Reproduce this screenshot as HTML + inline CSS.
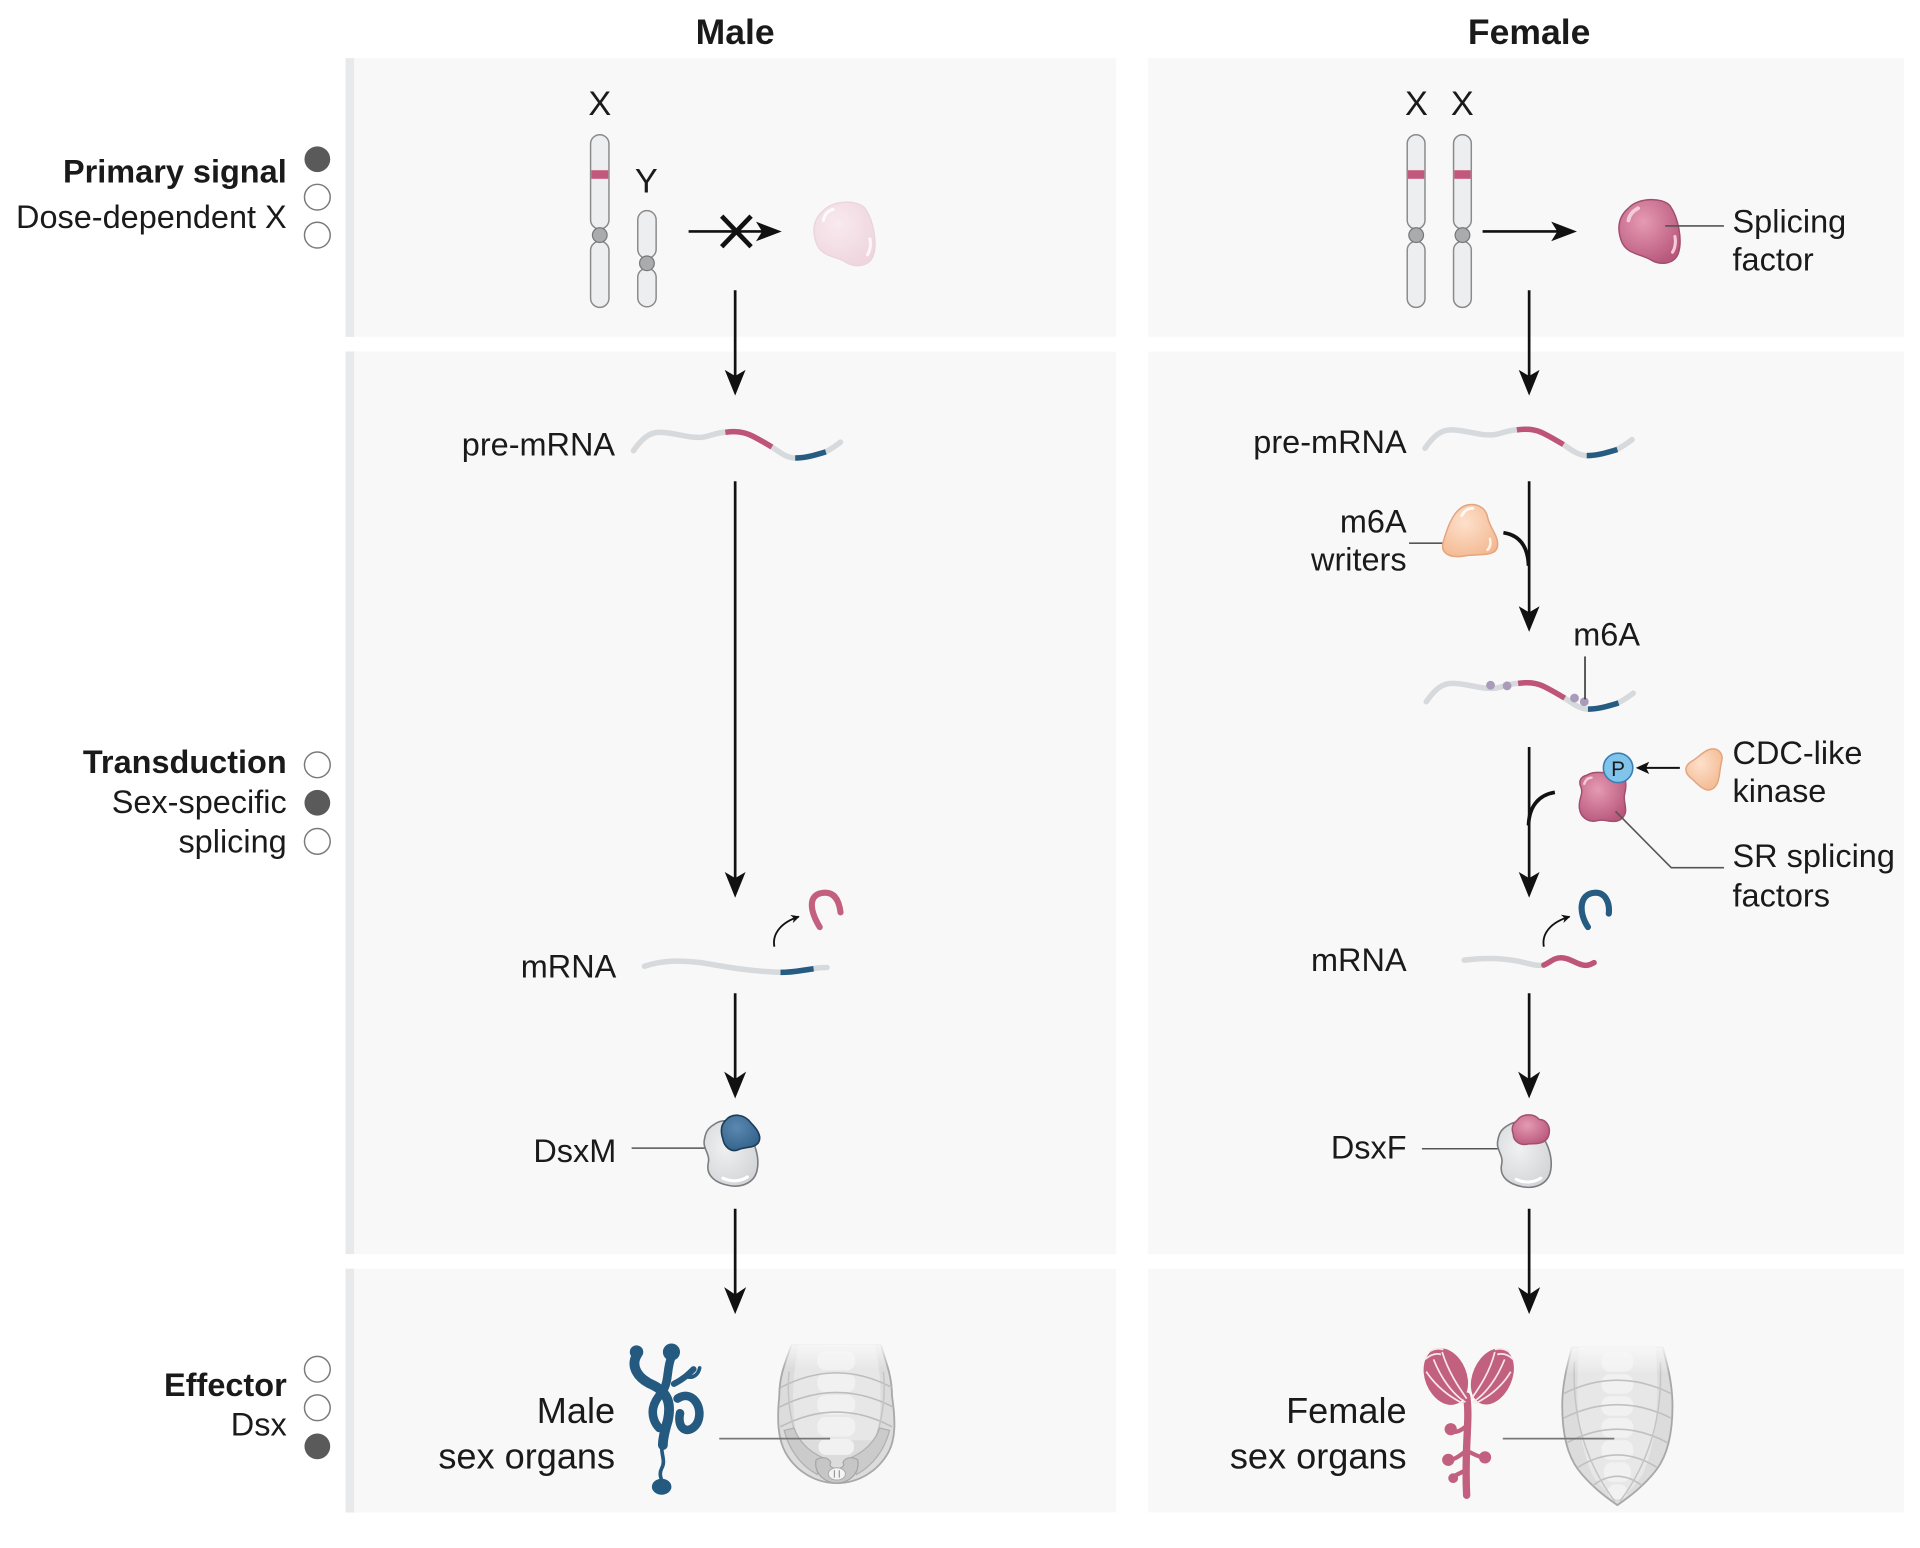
<!DOCTYPE html>
<html>
<head>
<meta charset="utf-8">
<style>
html,body{margin:0;padding:0;background:#fff;}
svg{display:block;}
text{font-family:"Liberation Sans",Arial,sans-serif;fill:#1a1a1a;}
.b{font-weight:bold;}
.t{font-size:26.5px;}
.o{font-size:29.5px;}
.ln{stroke:#555;stroke-width:1.3;fill:none;}
.ar{stroke:#111;stroke-width:2.2;fill:none;}
.ah{fill:#111;}
.chr{fill:#eceef0;stroke:#8a8a8a;stroke-width:1.2;}
.cen{fill:#a9abad;stroke:#777;stroke-width:1;}
.band{fill:#c4587c;}
.rg{fill:none;stroke:#d6dadd;stroke-width:4.5;stroke-linecap:round;}
.rp{fill:none;stroke:#bf5479;stroke-width:4.5;}
.rb{fill:none;stroke:#265b82;stroke-width:4.5;}
.cf{fill:#5a5a5a;}
.ce{fill:#fff;stroke:#7a7a7a;stroke-width:1.2;}
</style>
</head>
<body>
<svg width="1920" height="1548" viewBox="0 0 1567 1264" preserveAspectRatio="none" xmlns="http://www.w3.org/2000/svg">
<defs>
  <radialGradient id="gPink" cx="0.4" cy="0.35" r="0.7">
    <stop offset="0" stop-color="#e59ab3"/>
    <stop offset="1" stop-color="#b9587b"/>
  </radialGradient>
  <radialGradient id="gPale" cx="0.4" cy="0.35" r="0.7">
    <stop offset="0" stop-color="#f8eaef"/>
    <stop offset="1" stop-color="#efd5de"/>
  </radialGradient>
  <radialGradient id="gPeach" cx="0.4" cy="0.35" r="0.75">
    <stop offset="0" stop-color="#fde0cb"/>
    <stop offset="1" stop-color="#f3b78f"/>
  </radialGradient>
  <radialGradient id="gGray" cx="0.4" cy="0.4" r="0.75">
    <stop offset="0" stop-color="#f0f1f2"/>
    <stop offset="1" stop-color="#cfd1d4"/>
  </radialGradient>
  <radialGradient id="gBlue" cx="0.4" cy="0.35" r="0.75">
    <stop offset="0" stop-color="#5b88b0"/>
    <stop offset="1" stop-color="#2f5f88"/>
  </radialGradient>
  <linearGradient id="mg" x1="0" y1="0" x2="0" y2="1">
    <stop offset="0" stop-color="#000"/>
    <stop offset="0.17" stop-color="#fff"/>
    <stop offset="1" stop-color="#fff"/>
  </linearGradient>
  <mask id="mM" maskUnits="userSpaceOnUse" x="620" y="1096" width="125" height="125">
    <rect x="620" y="1096" width="125" height="125" fill="url(#mg)"/>
  </mask>
  <mask id="mF" maskUnits="userSpaceOnUse" x="1265" y="1098" width="110" height="140">
    <rect x="1265" y="1098" width="110" height="140" fill="url(#mg)"/>
  </mask>
  <marker id="sa" viewBox="0 0 10 10" refX="9" refY="5" markerWidth="7" markerHeight="7" orient="auto" markerUnits="userSpaceOnUse">
    <path d="M0,0 L10,5 L0,10 L3,5 Z" fill="#111"/>
  </marker>
</defs>

<!-- Panels -->
<rect x="282" y="47.5" width="629" height="227.5" fill="#f9f8f9"/>
<rect x="282" y="287" width="629" height="737" fill="#f9f8f9"/>
<rect x="282" y="1036" width="629" height="199" fill="#f9f8f9"/>
<rect x="282" y="47.5" width="7" height="227.5" fill="#e8e9eb"/>
<rect x="282" y="287" width="7" height="737" fill="#e8e9eb"/>
<rect x="282" y="1036" width="7" height="199" fill="#e8e9eb"/>
<rect x="937" y="47.5" width="617" height="227.5" fill="#f9f8f9"/>
<rect x="937" y="287" width="617" height="737" fill="#f9f8f9"/>
<rect x="937" y="1036" width="617" height="199" fill="#f9f8f9"/>

<!-- Titles -->
<text x="600" y="36" text-anchor="middle" class="b" font-size="29">Male</text>
<text x="1248" y="36" text-anchor="middle" class="b" font-size="29">Female</text>

<!-- Legend -->
<text x="234" y="149" text-anchor="end" class="b t">Primary signal</text>
<text x="234" y="186" text-anchor="end" class="t">Dose-dependent X</text>
<circle cx="259" cy="130" r="10.5" class="cf"/>
<circle cx="259" cy="161" r="10.5" class="ce"/>
<circle cx="259" cy="192" r="10.5" class="ce"/>

<text x="234" y="631" text-anchor="end" class="b t">Transduction</text>
<text x="234" y="664" text-anchor="end" class="t">Sex-specific</text>
<text x="234" y="696" text-anchor="end" class="t">splicing</text>
<circle cx="259" cy="624.5" r="10.5" class="ce"/>
<circle cx="259" cy="655.5" r="10.5" class="cf"/>
<circle cx="259" cy="687" r="10.5" class="ce"/>

<text x="234" y="1140" text-anchor="end" class="b t">Effector</text>
<text x="234" y="1172" text-anchor="end" class="t">Dsx</text>
<circle cx="259" cy="1118" r="10.5" class="ce"/>
<circle cx="259" cy="1149.5" r="10.5" class="ce"/>
<circle cx="259" cy="1181" r="10.5" class="cf"/>

<!-- ===== MALE PANEL 1 ===== -->
<text x="489.5" y="94" text-anchor="middle" font-size="28">X</text>
<text x="527.5" y="157" text-anchor="middle" font-size="28">Y</text>
<rect x="482" y="110" width="15" height="77" rx="7.5" class="chr"/>
<rect x="482" y="197" width="15" height="54" rx="7.5" class="chr"/>
<rect x="482.6" y="139" width="13.8" height="7" class="band"/>
<circle cx="489.5" cy="192" r="6" class="cen"/>
<rect x="520.5" y="172" width="15" height="39" rx="7.5" class="chr"/>
<rect x="520.5" y="219" width="15" height="31.5" rx="7.5" class="chr"/>
<circle cx="528" cy="215" r="6" class="cen"/>
<!-- blocked arrow -->
<line x1="562" y1="189" x2="624" y2="189" class="ar"/>
<polygon points="638,189 617,181 622,189 617,197" class="ah"/>
<line x1="589" y1="176.5" x2="613" y2="201.5" stroke="#111" stroke-width="3.8"/>
<line x1="613" y1="176.5" x2="589" y2="201.5" stroke="#111" stroke-width="3.8"/>
<!-- pale protein -->
<path d="M672,172 C680,163 700,163 706,170 C713,180 716,198 713,208 C710,218 698,219 690,214 C682,209 670,210 666,198 C662,186 665,178 672,172 Z" fill="url(#gPale)" stroke="#ead3dc" stroke-width="1"/>
<path d="M672,180 C673,175 676,172 680,171" stroke="#fff" stroke-width="2.5" fill="none" stroke-linecap="round" opacity="0.8"/>
<path d="M710,195 C711,200 710,205 708,208" stroke="#fff" stroke-width="2.5" fill="none" stroke-linecap="round" opacity="0.8"/>

<!-- ===== FEMALE PANEL 1 ===== -->
<text x="1156" y="94" text-anchor="middle" font-size="28">X</text>
<text x="1193.5" y="94" text-anchor="middle" font-size="28">X</text>
<rect x="1148.5" y="110" width="14.5" height="77" rx="7.2" class="chr"/>
<rect x="1148.5" y="197" width="14.5" height="54" rx="7.2" class="chr"/>
<rect x="1149.1" y="139" width="13.3" height="7" class="band"/>
<circle cx="1155.8" cy="192" r="6" class="cen"/>
<rect x="1186.3" y="110" width="14.5" height="77" rx="7.2" class="chr"/>
<rect x="1186.3" y="197" width="14.5" height="54" rx="7.2" class="chr"/>
<rect x="1186.9" y="139" width="13.3" height="7" class="band"/>
<circle cx="1193.6" cy="192" r="6" class="cen"/>
<line x1="1210" y1="189" x2="1272" y2="189" class="ar"/>
<polygon points="1287,189 1266,181 1271,189 1266,197" class="ah"/>
<path d="M1329,170 C1337,161 1357,161 1363,168 C1370,178 1373,196 1370,206 C1367,216 1355,217 1347,212 C1339,207 1327,208 1323,196 C1319,184 1322,176 1329,170 Z" fill="url(#gPink)" stroke="#a14e6f" stroke-width="1.2"/>
<path d="M1329,180 C1330,175 1333,172 1337,170" stroke="#f6cbd9" stroke-width="3" fill="none" stroke-linecap="round"/>
<path d="M1367,193 C1368,198 1367,203 1365,206" stroke="#f6cbd9" stroke-width="2.5" fill="none" stroke-linecap="round"/>
<line x1="1359" y1="184.5" x2="1407" y2="184.5" class="ln"/>
<text x="1414" y="190" class="t">Splicing</text>
<text x="1414" y="221" class="t">factor</text>

<!-- ===== DOWN ARROWS ===== -->
<g>
<line x1="600" y1="237" x2="600" y2="312" class="ar"/>
<polygon points="600,323 591.5,302 600,307 608.5,302" class="ah"/>
<line x1="600" y1="393" x2="600" y2="720" class="ar"/>
<polygon points="600,733 591.5,712 600,717 608.5,712" class="ah"/>
<line x1="600" y1="811" x2="600" y2="884" class="ar"/>
<polygon points="600,897 591,875 600,881 609,875" class="ah"/>
<line x1="600" y1="987" x2="600" y2="1060" class="ar"/>
<polygon points="600,1073 591,1051 600,1057 609,1051" class="ah"/>

<line x1="1248" y1="237" x2="1248" y2="312" class="ar"/>
<polygon points="1248,323 1239.5,302 1248,307 1256.5,302" class="ah"/>
<line x1="1248" y1="393" x2="1248" y2="503" class="ar"/>
<polygon points="1248,516 1239.5,495 1248,500 1256.5,495" class="ah"/>
<line x1="1248" y1="610" x2="1248" y2="720" class="ar"/>
<polygon points="1248,733 1239.5,712 1248,717 1256.5,712" class="ah"/>
<line x1="1248" y1="811" x2="1248" y2="884" class="ar"/>
<polygon points="1248,897 1239,875 1248,881 1257,875" class="ah"/>
<line x1="1248" y1="987" x2="1248" y2="1060" class="ar"/>
<polygon points="1248,1073 1239,1051 1248,1057 1257,1051" class="ah"/>
</g>

<!-- ===== pre-mRNA (female) ===== -->
<g>
<path d="M1163,366 C1170,356 1176,351 1184,351 C1197,351 1207,356 1219,355 C1226,354 1231,351 1238,351 C1245,350 1252,350 1260,354 C1266,357 1271,360 1276,363 C1282,367 1288,372 1295,372 C1303,372 1310,370 1317,368 C1323,366 1328,362 1332,359" class="rg"/>
<path d="M1238,351 C1245,350 1252,350 1260,354 C1266,357 1271,360 1276,363" class="rp"/>
<path d="M1295,372 C1303,372 1310,370 1320,367" class="rb"/>
</g>
<text x="1148" y="370" text-anchor="end" class="t">pre-mRNA</text>

<!-- male pre-mRNA -->
<g transform="translate(-646,2)">
<path d="M1163,366 C1170,356 1176,351 1184,351 C1197,351 1207,356 1219,355 C1226,354 1231,351 1238,351 C1245,350 1252,350 1260,354 C1266,357 1271,360 1276,363 C1282,367 1288,372 1295,372 C1303,372 1310,370 1317,368 C1323,366 1328,362 1332,359" class="rg"/>
<path d="M1238,351 C1245,350 1252,350 1260,354 C1266,357 1271,360 1276,363" class="rp"/>
<path d="M1295,372 C1303,372 1310,370 1320,367" class="rb"/>
</g>
<text x="502" y="372" text-anchor="end" class="t">pre-mRNA</text>

<!-- m6A writers -->
<text x="1148" y="435" text-anchor="end" class="t">m6A</text>
<text x="1148" y="466" text-anchor="end" class="t">writers</text>
<line x1="1150" y1="443.5" x2="1185" y2="443.5" class="ln"/>
<path d="M1192,415 C1200,409 1212,412 1214,422 C1216,432 1224,438 1222,447 C1220,455 1205,452 1195,454 C1183,456 1175,452 1178,442 C1181,432 1185,420 1192,415 Z" fill="url(#gPeach)" stroke="#e3a47e" stroke-width="1.2"/>
<path d="M1193,421 C1195,417 1198,415 1202,415" stroke="#fff" stroke-width="2.5" fill="none" stroke-linecap="round" opacity="0.8"/>
<path d="M1216,440 C1217,444 1216,447 1214,449" stroke="#fff" stroke-width="2" fill="none" stroke-linecap="round" opacity="0.8"/>
<path d="M1227,435 C1240,437 1247,446 1247.5,462" fill="none" stroke="#111" stroke-width="3"/>

<!-- m6A modified RNA -->
<text x="1284" y="527" class="t">m6A</text>
<g transform="translate(1,207)">
<path d="M1163,366 C1170,356 1176,351 1184,351 C1197,351 1207,356 1219,355 C1226,354 1231,351 1238,351 C1245,350 1252,350 1260,354 C1266,357 1271,360 1276,363 C1282,367 1288,372 1295,372 C1303,372 1310,370 1317,368 C1323,366 1328,362 1332,359" class="rg"/>
<path d="M1238,351 C1245,350 1252,350 1260,354 C1266,357 1271,360 1276,363" class="rp"/>
<path d="M1295,372 C1303,372 1310,370 1320,367" class="rb"/>
</g>
<circle cx="1216.5" cy="559.5" r="3.6" fill="#a99bb9"/>
<circle cx="1230" cy="560" r="3.6" fill="#a99bb9"/>
<circle cx="1285" cy="570" r="3.6" fill="#a99bb9"/>
<circle cx="1293" cy="573" r="3.6" fill="#a99bb9"/>
<line x1="1293.6" y1="536" x2="1293.6" y2="571" stroke="#333" stroke-width="1.3"/>

<!-- SR / kinase -->
<path d="M1269,647 C1257,649 1248,657 1247.5,674" fill="none" stroke="#111" stroke-width="3"/>
<path d="M1295,633 C1303,628 1313,633 1320,631 C1327,631 1328,640 1326,648 C1324,655 1330,662 1324,668 C1318,674 1310,668 1304,670 C1297,672 1290,668 1289,660 C1288,652 1293,648 1290,642 C1288,637 1291,634 1295,633 Z" fill="url(#gPink)" stroke="#a14e6f" stroke-width="1.2"/>
<path d="M1293,640 C1294,637 1296,635 1299,635" stroke="#f6cbd9" stroke-width="2" fill="none" stroke-linecap="round"/>
<circle cx="1320.6" cy="627" r="12" fill="#80c4ec" stroke="#3a7fb2" stroke-width="1.3"/>
<text x="1320.6" y="633.5" text-anchor="middle" font-size="17" fill="#1d3f5c">P</text>
<line x1="1371" y1="627" x2="1343" y2="627" stroke="#111" stroke-width="1.6"/>
<polygon points="1335,627 1346,622 1343.5,627 1346,632" class="ah"/>
<path d="M1395,612 C1402,610 1407,615 1405,622 C1403,630 1404,640 1398,644 C1392,648 1385,640 1381,636 C1375,632 1374,626 1380,622 C1386,619 1389,614 1395,612 Z" fill="url(#gPeach)" stroke="#e3a47e" stroke-width="1.2"/>
<text x="1414" y="624" class="t">CDC-like</text>
<text x="1414" y="655" class="t">kinase</text>
<path d="M1318.5,662.5 L1364,708.5 L1407,708.5" class="ln"/>
<text x="1414" y="708" class="t">SR splicing</text>
<text x="1414" y="740" class="t">factors</text>

<!-- Female mRNA -->
<path d="M1296,757 C1288,745 1289,730 1301,729 C1310,728 1314,737 1313,746" fill="none" stroke="#265b82" stroke-width="5" stroke-linecap="round"/>
<path d="M1260,773 C1258,762 1266,753 1281,748.5" fill="none" stroke="#111" stroke-width="1.5" marker-end="url(#sa)"/>
<path d="M1195,784 C1210,782 1225,782 1240,785 C1248,787 1254,789 1260,788" class="rg"/>
<path d="M1260,788 C1265,786 1268,782 1274,782 C1281,782 1286,787 1292,788 C1296,789 1299,787 1301,786" fill="none" stroke="#bf5479" stroke-width="4.5" stroke-linecap="round"/>
<text x="1148" y="793" text-anchor="end" class="t">mRNA</text>

<!-- Male mRNA -->
<path d="M669,757 C660,742 660,730 672,729 C682,728 685,737 686,745" fill="none" stroke="#c4607f" stroke-width="5" stroke-linecap="round"/>
<path d="M632,773 C630,762 638,753 652,748.5" fill="none" stroke="#111" stroke-width="1.5" marker-end="url(#sa)"/>
<path d="M526,789 C540,784 555,784 572,786 C590,789 610,793 637,794 C648,794 656,792 664,791 C668,790 672,790 675,790" class="rg"/>
<path d="M637,794 C648,794 656,792 664,791" class="rb"/>
<text x="503" y="798" text-anchor="end" class="t">mRNA</text>

<!-- DsxM -->
<text x="503" y="949" text-anchor="end" class="t">DsxM</text>
<line x1="515.5" y1="937.5" x2="584" y2="937.5" class="ln"/>
<path d="M583,918 C592,912 605,916 610,926 C616,932 620,945 618,955 C616,966 605,970 595,968 C584,966 576,960 578,950 C580,942 573,938 575,930 C576,924 578,921 583,918 Z" fill="url(#gGray)" stroke="#7b7d80" stroke-width="1.3"/>
<path d="M590,962 C596,965 604,965 610,961" stroke="#fff" stroke-width="2.5" fill="none" stroke-linecap="round"/>
<path d="M592,915 C598,908 608,910 613,917 C618,922 622,928 619,933 C615,938 608,936 602,939 C596,941 591,936 590,930 C588,924 588,919 592,915 Z" fill="url(#gBlue)" stroke="#1c3b57" stroke-width="1.3"/>

<!-- DsxF -->
<text x="1148" y="946" text-anchor="end" class="t">DsxF</text>
<line x1="1160.5" y1="938" x2="1229" y2="938" class="ln"/>
<g transform="translate(647.5,1)">
<path d="M583,918 C592,912 605,916 610,926 C616,932 620,945 618,955 C616,966 605,970 595,968 C584,966 576,960 578,950 C580,942 573,938 575,930 C576,924 578,921 583,918 Z" fill="url(#gGray)" stroke="#7b7d80" stroke-width="1.3"/>
<path d="M590,962 C596,965 604,965 610,961" stroke="#fff" stroke-width="2.5" fill="none" stroke-linecap="round"/>
</g>
<path d="M1238,915 C1242,909 1252,909 1256,914 C1262,914 1266,920 1264,927 C1262,934 1254,934 1248,934 C1241,936 1235,932 1235,926 C1233,921 1235,917 1238,915 Z" fill="url(#gPink)" stroke="#a14e6f" stroke-width="1.2"/>

<!-- ===== MALE ORGANS ===== -->
<text x="502" y="1162" text-anchor="end" class="o">Male</text>
<text x="502" y="1199" text-anchor="end" class="o">sex organs</text>
<g fill="none" stroke="#255a80" stroke-linecap="round">
  <path d="M520,1106 C514,1116 521,1126 533,1131 C545,1137 548,1146 545,1160 C542,1170 541,1175 541,1180" stroke-width="8"/>
  <path d="M548,1108 C544,1118 546,1126 542,1134 C538,1140 534,1144 533,1150 C532,1156 534,1162 538,1166" stroke-width="7"/>
  <path d="M553,1142 C565,1134 575,1150 569,1162 C563,1172 552,1168 555,1154" stroke-width="7"/>
  <path d="M550,1130 C558,1126 562,1122 566,1118" stroke-width="5"/>
  <path d="M560,1124 C566,1126 570,1122 571,1117" stroke-width="3"/>
  <path d="M541,1178 C538,1186 544,1192 540,1199 C537,1205 541,1208 540,1212" stroke-width="3"/>
</g>
<circle cx="519.5" cy="1104" r="5.5" fill="#255a80"/>
<circle cx="548" cy="1104" r="7" fill="#255a80"/>
<ellipse cx="540" cy="1214" rx="8" ry="6.5" fill="#255a80"/>

<!-- male abdomen -->
<g mask="url(#mM)">
<path d="M646,1098 C642,1110 636,1122 636,1140 C634,1160 635,1175 641,1186 C650,1202 666,1211 683,1211 C700,1211 716,1202 725,1186 C731,1175 731,1160 728,1140 C728,1122 722,1110 719,1098 Z" fill="#dcdcdc" stroke="#a9a9a9" stroke-width="1.5"/>
<path d="M652,1098 C647,1120 645,1150 651,1176 L715,1176 C721,1150 719,1120 714,1098 Z" fill="#e7e7e7"/>
<rect x="667" y="1103" width="31" height="16" rx="7" fill="#f1f1f1"/>
<rect x="667" y="1121" width="31" height="16" rx="7" fill="#f1f1f1"/>
<rect x="667" y="1139" width="31" height="16" rx="7" fill="#f1f1f1"/>
<rect x="667" y="1157" width="31" height="16" rx="7" fill="#f1f1f1"/>
<rect x="668" y="1175" width="29" height="13" rx="6" fill="#f1f1f1"/>
<path d="M637,1133 Q683,1109 728,1133 M636,1149 Q683,1125 729,1149 M637,1165 Q683,1141 728,1165" fill="none" stroke="#bdbdbd" stroke-width="1.3"/>
<path d="M644,1120 C642,1140 645,1160 651,1176 M721,1120 C723,1140 720,1160 714,1176" fill="none" stroke="#c4c4c4" stroke-width="1.2"/>
<path d="M640,1168 C644,1184 654,1197 667,1204 L671,1190 C660,1185 652,1177 648,1166 Z" fill="#cbcbcb" stroke="#b0b0b0" stroke-width="1"/>
<path d="M726,1168 C722,1184 712,1197 699,1204 L695,1190 C706,1185 714,1177 718,1166 Z" fill="#cbcbcb" stroke="#b0b0b0" stroke-width="1"/>
<path d="M666,1192 C664,1204 674,1211 683,1211 C692,1211 702,1204 700,1192 C695,1189 690,1190 688,1194 C690,1198 686,1199 683,1199 C680,1199 676,1198 678,1194 C676,1190 671,1189 666,1192 Z" fill="#c6c6c6" stroke="#a5a5a5" stroke-width="1"/>
<ellipse cx="683" cy="1203.5" rx="7" ry="5" fill="#f4f4f4" stroke="#aaa" stroke-width="0.8"/>
<line x1="681" y1="1200.5" x2="681" y2="1206.5" stroke="#999" stroke-width="1"/>
<line x1="685" y1="1200.5" x2="685" y2="1206.5" stroke="#999" stroke-width="1"/>
</g>
<line x1="587" y1="1174.7" x2="677.5" y2="1174.7" stroke="#777" stroke-width="1.4"/>

<!-- ===== FEMALE ORGANS ===== -->
<text x="1148" y="1162" text-anchor="end" class="o">Female</text>
<text x="1148" y="1199" text-anchor="end" class="o">sex organs</text>
<g>
  <path d="M1197,1140 C1200,1160 1195,1180 1197,1221" fill="none" stroke="#c2607f" stroke-width="6" stroke-linecap="round"/>
  <path d="M1196,1165 C1190,1170 1186,1170 1184,1168 M1196,1185 C1190,1190 1186,1192 1183,1192 M1198,1185 C1204,1188 1208,1190 1211,1190 M1197,1200 C1192,1203 1188,1204 1186,1206" fill="none" stroke="#c2607f" stroke-width="3.5" stroke-linecap="round"/>
  <circle cx="1184" cy="1167" r="5" fill="#c2607f"/>
  <circle cx="1182" cy="1192" r="5" fill="#c2607f"/>
  <circle cx="1212" cy="1190" r="5" fill="#c2607f"/>
  <circle cx="1186" cy="1207" r="4" fill="#c2607f"/>
  <ellipse cx="1180" cy="1124" rx="17" ry="24" transform="rotate(-22 1180 1124)" fill="#c2607f"/>
  <ellipse cx="1218" cy="1124" rx="16" ry="24" transform="rotate(24 1218 1124)" fill="#c2607f"/>
  <g fill="none" stroke="#f7e6ec" stroke-width="1.4">
    <path d="M1170,1110 C1176,1125 1185,1138 1196,1145"/>
    <path d="M1177,1104 C1182,1120 1190,1132 1197,1142"/>
    <path d="M1164,1120 C1172,1132 1182,1140 1194,1146"/>
    <path d="M1228,1110 C1222,1125 1213,1138 1202,1145"/>
    <path d="M1220,1104 C1216,1120 1208,1132 1201,1142"/>
    <path d="M1233,1120 C1226,1132 1216,1140 1204,1146"/>
    <path d="M1163,1110 Q1170,1104 1176,1106 M1166,1104 Q1172,1100 1178,1102 M1220,1102 Q1226,1100 1232,1104 M1222,1106 Q1229,1104 1235,1110"/>
  </g>
</g>

<!-- female abdomen -->
<g mask="url(#mF)">
<path d="M1283,1100 C1279,1115 1275,1130 1275,1148 C1275,1170 1279,1188 1288,1200 C1298,1213 1310,1222 1320,1229 C1330,1222 1342,1213 1352,1200 C1361,1188 1365,1170 1365,1148 C1365,1130 1361,1115 1357,1100 Z" fill="#dcdcdc" stroke="#a8a8a8" stroke-width="1.5"/>
<path d="M1289,1100 C1285,1140 1288,1180 1300,1205 C1307,1215 1314,1221 1320,1225 C1326,1221 1333,1215 1340,1205 C1352,1180 1355,1140 1351,1100 Z" fill="#e7e7e7"/>
<rect x="1307" y="1104" width="26" height="16" rx="7" fill="#f1f1f1"/>
<rect x="1307" y="1122" width="26" height="16" rx="7" fill="#f1f1f1"/>
<rect x="1307" y="1140" width="26" height="16" rx="7" fill="#f1f1f1"/>
<rect x="1307" y="1158" width="26" height="16" rx="7" fill="#f1f1f1"/>
<rect x="1307" y="1176" width="26" height="16" rx="7" fill="#f1f1f1"/>
<rect x="1309" y="1194" width="22" height="16" rx="7" fill="#f1f1f1"/>
<rect x="1312" y="1212" width="16" height="12" rx="6" fill="#f1f1f1"/>
<path d="M1276,1138 Q1320,1116 1364,1138 M1276,1158 Q1320,1136 1364,1158 M1279,1178 Q1320,1156 1361,1178 M1288,1198 Q1320,1178 1352,1198 M1300,1213 Q1320,1198 1340,1213" fill="none" stroke="#c0c0c0" stroke-width="1.3"/>
<path d="M1285,1112 C1283,1150 1291,1190 1318,1226 M1355,1112 C1357,1150 1349,1190 1322,1226" fill="none" stroke="#c4c4c4" stroke-width="1.2"/>
</g>
<line x1="1226.5" y1="1174.7" x2="1317.5" y2="1174.7" stroke="#777" stroke-width="1.4"/>

</svg>
</body>
</html>
